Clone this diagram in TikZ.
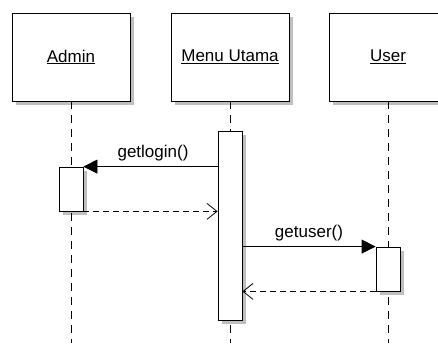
\documentclass[tikz,border=0pt]{standalone}
\usepackage{fontspec}
\setmainfont{Liberation Sans}
\usetikzlibrary{arrows.meta,backgrounds}
\begin{document}
\begin{tikzpicture}[x=1pt,y=-1pt,
  font=\fontsize{17}{20}\selectfont,
  shadowfill/.style={fill=black!25},
  objbox/.style={draw=black,fill=white,line width=0.8pt,minimum width=118pt,minimum height=88pt,inner sep=0pt},
  actbox/.style={draw=black,fill=white,line width=0.8pt,minimum width=24pt,inner sep=0pt},
  lifeline/.style={draw=black,line width=0.8pt,dash pattern=on 8pt off 6pt},
  callmsg/.style={draw=black,line width=0.8pt,-{Triangle[length=14pt,width=14pt]}},
  retmsg/.style={draw=black,line width=0.8pt,dash pattern=on 6pt off 4pt,-{Straight Barb[length=10pt,width=16pt]}},
  msglabel/.style={anchor=base,inner sep=0pt}]
\useasboundingbox (0,0) rectangle (438,343);

% object heads
\node[objbox] (admin) at (71,57) {\underline{Admin}};
\node[objbox] (menu) at (230,57) {\underline{Menu Utama}};
\node[objbox] (user) at (388,57) {\underline{User}};

% lifelines
\coordinate (adminEnd) at (71,343);
\coordinate (menuEnd) at (230,343);
\coordinate (userEnd) at (388,343);
\draw[lifeline] (admin.south) -- (adminEnd);
\draw[lifeline] (menu.south) -- (menuEnd);
\draw[lifeline] (user.south) -- (userEnd);

% activation bars
\node[actbox,minimum height=189pt] (menuAct) at (230,225.5) {};
\node[actbox,minimum height=44pt] (adminAct) at (71,189) {};
\node[actbox,minimum height=44pt] (userAct) at (388,269) {};

% drop shadows behind every box
\begin{pgfonlayer}{background}
  \foreach \b in {admin,menu,user,menuAct,adminAct,userAct}
    \fill[shadowfill] ([shift={(4pt,-4pt)}]\b.north west) rectangle ([shift={(4pt,-4pt)}]\b.south east);
\end{pgfonlayer}

% messages
\draw[callmsg] (menuAct.west |- adminAct.north east) -- (adminAct.north east);
\node[msglabel] (lblLogin) at (153,157) {getlogin()};
\draw[retmsg] (adminAct.south east) -- (menuAct.west |- adminAct.south east);

\draw[callmsg] (menuAct.east |- userAct.north west) -- (userAct.north west);
\node[msglabel] (lblUser) at (309,237) {getuser()};
\draw[retmsg] (userAct.south west) -- (menuAct.east |- userAct.south west);
\end{tikzpicture}
\end{document}
